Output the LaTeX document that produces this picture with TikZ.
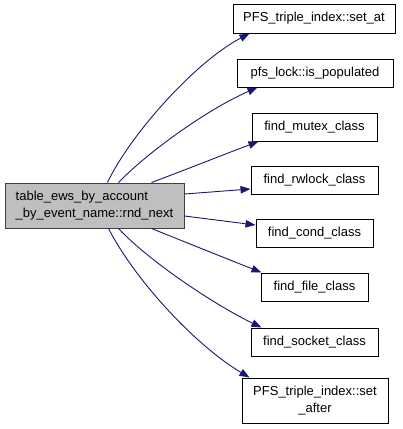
\documentclass[tikz,border=0pt]{standalone}
\usepackage{fontspec}
\setmainfont{Liberation Sans}
\usetikzlibrary{arrows.meta,calc}
\definecolor{edgeblue}{HTML}{191970}
\definecolor{mainfill}{HTML}{BFBFBF}
\tikzset{
  fn/.style={draw=black, line width=1pt, fill=white, inner sep=0pt, align=center,
    font=\fontsize{13}{16.5}\selectfont},
  mainfn/.style={fn, draw=black!75, fill=mainfill, align=left},
  call/.style={draw=edgeblue, line width=0.9pt, -{Triangle[length=10pt,width=7.5pt]}},
}
\begin{document}
\begin{tikzpicture}[x=1pt,y=-1pt]
\useasboundingbox (0,0) rectangle (403,429);
\node[mainfn, minimum width=179pt, minimum height=45pt] (main) at (94.5,205.5) {table\_ews\_by\_account\\\_by\_event\_name::rnd\_next};
\node[fn, minimum width=162pt, minimum height=29pt] (setat) at (314,18.5) {PFS\_triple\_index::set\_at};
\node[fn, minimum width=156pt, minimum height=28pt] (ispop) at (315,73) {pfs\_lock::is\_populated};
\node[fn, minimum width=125pt, minimum height=28pt] (mutex) at (314.5,127) {find\_mutex\_class};
\node[fn, minimum width=127pt, minimum height=28pt] (rwlock) at (314.5,180) {find\_rwlock\_class};
\node[fn, minimum width=117pt, minimum height=28pt] (cond) at (314.5,233) {find\_cond\_class};
\node[fn, minimum width=107pt, minimum height=28pt] (file) at (314.5,287) {find\_file\_class};
\node[fn, minimum width=127pt, minimum height=28pt] (socket) at (314.5,342) {find\_socket\_class};
\node[fn, minimum width=146pt, minimum height=45pt] (after) at (315,400.5) {PFS\_triple\_index::set\\\_after};

\draw[call] ($(main.north west)+(103,0)$) .. controls (130,135) and (195,62) .. ($(setat.south west)+(17,0)$);
\draw[call] ($(main.north west)+(114,0)$) .. controls (150,150) and (210,108) .. ($(ispop.south west)+(21,0)$);
\draw[call] ($(main.north west)+(147,0)$) .. controls (185,170) and (225,154) .. ($(mutex.south west)+(7,0)$);
\draw[call] ($(main.north east)+(0,11.5)$) -- ($(rwlock.west)+(0,9)$);
\draw[call] ($(main.north east)+(0,33.5)$) -- ($(cond.west)+(0,-8)$);
\draw[call] ($(main.south west)+(147,0)$) .. controls (185,242) and (230,260) .. ($(file.north west)+(1,0)$);
\draw[call] ($(main.south west)+(114,0)$) .. controls (150,262) and (215,305) .. ($(socket.north west)+(11,0)$);
\draw[call] ($(main.south west)+(104,0)$) .. controls (135,280) and (195,345) .. ($(after.north west)+(8,0)$);
\end{tikzpicture}
\end{document}
